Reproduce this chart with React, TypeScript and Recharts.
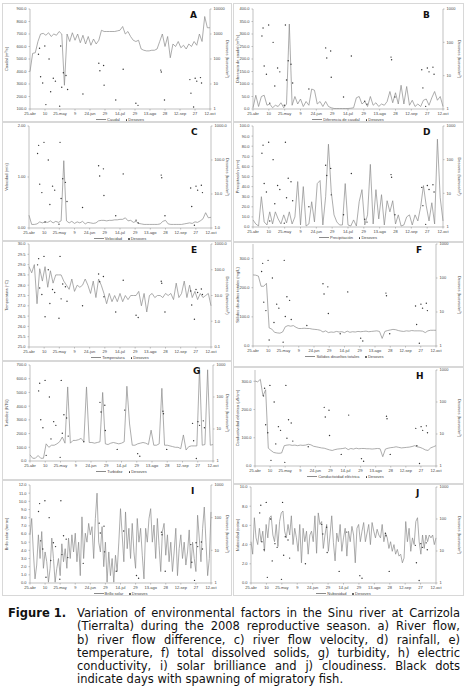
import React from 'react';
import { ComposedChart, Line, Scatter, XAxis, YAxis } from 'recharts';

// x axis labels, equally spaced (index 0..12)
const dateTicks = ['25-abr', '10', '25-may', '9', '24-jun', '29', '14-jul', '29', '13-ago', '28', '12-sep', '27', '12-oct'];

// spawning days (days since 25-abr) and eggs per m3
const spawnDays = [8, 9, 14, 18, 10, 12, 15, 19.5, 22, 24, 29, 30, 31.5, 34, 35.5, 28, 50, 65, 66, 69.5, 70, 81, 88, 100, 102, 123.5, 124, 127, 151, 152, 154.5, 156, 157.5, 161, 162];
const spawnEggs = [155, 270, 330, 100, 19.5, 11, 1.5, 4.9, 17, 13, 330, 7.4, 28, 22, 6, 1.3, 4, 68, 34, 55, 9, 2.3, 39, 1.7, 1.4, 36, 30, 2.3, 15, 4.3, 1.2, 17, 13, 18, 11];

const caudal = [400, 545, 550, 640, 700, 705, 690, 710, 680, 700, 690, 720, 700, 290, 700, 640, 710, 650, 700, 630, 690, 620, 680, 610, 660, 620, 650, 730, 720, 720, 720, 720, 720, 725, 730, 760, 700, 720, 680, 650, 640, 650, 580, 570, 565, 565, 570, 570, 580, 640, 700, 600, 680, 510, 620, 600, 640, 590, 610, 580, 620, 600, 640, 610, 700, 640, 840, 750, 750];
const difCaudal = [5, 55, 10, 50, 55, 15, 20, 5, 15, 10, 25, 5, 20, 340, 15, 50, 20, 40, 10, 30, 15, 80, 75, 20, 30, 10, 30, 10, 5, 2, 2, 2, 2, 2, 2, 3, 5, 45, 50, 20, 30, 10, 50, 15, 25, 10, 20, 15, 30, 70, 25, 65, 20, 95, 20, 90, 15, 35, 10, 20, 10, 35, 40, 15, 45, 70, 35, 50, 10];
const velocidad = [0.25, 0.07, 0.07, 0.08, 0.12, 0.1, 0.12, 0.11, 0.14, 0.1, 0.13, 0.11, 0.14, 1.32, 0.14, 0.1, 0.13, 0.09, 0.12, 0.1, 0.13, 0.08, 0.11, 0.1, 0.09, 0.1, 0.14, 0.15, 0.15, 0.14, 0.15, 0.15, 0.16, 0.16, 0.17, 0.17, 0.2, 0.14, 0.15, 0.11, 0.13, 0.09, 0.08, 0.07, 0.07, 0.07, 0.07, 0.07, 0.07, 0.08, 0.13, 0.15, 0.08, 0.07, 0.07, 0.07, 0.07, 0.07, 0.08, 0.09, 0.1, 0.09, 0.12, 0.11, 0.14, 0.18, 0.3, 0.2, 0.21];
const precipitacion = [7, 3, 1, 30, 5, 2, 15, 3, 15, 8, 3, 12, 4, 15, 3, 10, 45, 2, 40, 1, 3, 25, 5, 43, 46, 2, 30, 82, 35, 12, 5, 2, 2, 43, 2, 1, 7, 1, 25, 37, 2, 12, 62, 3, 37, 8, 32, 2, 26, 15, 26, 3, 12, 1, 2, 10, 12, 2, 12, 6, 20, 41, 21, 6, 24, 3, 87, 29, 6];
const temperatura = [28.9, 28.6, 29.0, 27.1, 28.8, 28.2, 28.9, 27.9, 28.7, 28.1, 28.5, 28.5, 28.5, 28.2, 28.0, 27.8, 28.3, 27.7, 28.0, 27.9, 28.0, 28.3, 28.0, 27.6, 28.2, 27.4, 28.3, 28.0, 27.6, 27.1, 27.6, 27.2, 27.5, 27.2, 27.6, 27.2, 27.5, 27.3, 27.5, 27.5, 27.5, 27.7, 27.0, 27.6, 26.7, 27.5, 27.6, 27.4, 27.5, 27.5, 27.4, 27.6, 27.5, 27.6, 27.3, 28.1, 27.4, 27.6, 28.2, 27.4, 28.0, 27.4, 27.7, 27.3, 27.6, 27.4, 27.5, 27.6, 27.0];
const solidos = [244, 243, 240, 205, 205, 215, 62, 58, 47, 45, 44, 48, 66, 70, 68, 70, 64, 60, 60, 61, 60, 60, 58, 57, 56, 54, 48, 52, 46, 48, 47, 50, 48, 49, 46, 51, 47, 49, 48, 50, 49, 50, 51, 49, 50, 51, 52, 50, 26, 50, 53, 55, 57, 56, 53, 51, 50, 52, 51, 53, 52, 52, 52, 51, 46, 52, 54, 54, 54];
const turbidez = [45, 20, 20, 40, 20, 20, 125, 100, 115, 115, 125, 140, 175, 130, 540, 130, 150, 150, 155, 165, 140, 540, 135, 135, 130, 135, 140, 500, 125, 120, 130, 135, 130, 125, 130, 140, 545, 270, 115, 115, 125, 130, 135, 130, 120, 225, 115, 115, 125, 530, 115, 115, 110, 105, 100, 100, 90, 190, 80, 105, 110, 110, 110, 680, 115, 120, 665, 115, 120];
const conductividad = [301, 298, 307, 248, 270, 63, 55, 48, 46, 45, 46, 72, 74, 75, 73, 74, 72, 74, 73, 74, 77, 75, 70, 68, 66, 64, 63, 60, 57, 55, 58, 60, 61, 62, 64, 58, 62, 60, 63, 61, 62, 62, 61, 61, 60, 61, 62, 61, 33, 60, 63, 65, 66, 68, 66, 64, 65, 66, 67, 69, 72, 68, 66, 62, 57, 55, 64, 68, 72];
const brillo = [5.9, 7.9, 3.8, 0.5, 2.2, 5.9, 3.0, 6.3, 1.8, 3.8, 2.6, 0.1, 1.8, 5.5, 3.0, 0.1, 1.8, 3.0, 0.9, 4.8, 2.6, 4.2, 1.8, 5.5, 3.0, 5.9, 3.8, 6.1, 2.6, 5.0, 0.9, 8.1, 3.0, 6.1, 5.0, 7.3, 5.9, 6.9, 3.0, 7.9, 11.0, 5.0, 3.8, 6.9, 2.0, 5.0, 0.1, 3.8, 0.9, 3.0, 0.1, 3.4, 1.4, 5.0, 9.1, 5.9, 2.6, 8.7, 4.2, 6.7, 3.0, 7.3, 3.8, 1.8, 7.9, 5.0, 6.7, 3.4, 0.5, 6.7, 5.0, 7.9, 9.1, 5.0, 7.1, 3.0, 7.9, 4.6, 1.4, 6.3, 7.3, 3.4, 5.9, 2.6, 5.0, 1.4, 3.8, 6.7, 0.9, 4.2, 5.9, 3.0, 5.0, 2.2, 3.8, 6.5, 1.8, 5.0, 3.0, 1.4, 8.3, 5.5, 2.6, 6.7, 9.3, 5.0, 0.9, 3.0, 8.7];
const nubosidad = [4.3, 3.0, 6.8, 4.7, 4.0, 5.7, 4.3, 5.4, 3.3, 6.1, 4.7, 6.8, 7.0, 5.0, 4.3, 6.1, 3.8, 6.4, 7.3, 7.5, 5.4, 4.7, 6.1, 5.0, 7.0, 4.0, 5.7, 4.7, 3.3, 6.1, 2.1, 5.7, 4.3, 5.4, 3.0, 5.0, 5.4, 4.3, 7.0, 3.1, 7.3, 6.1, 6.4, 3.6, 5.0, 6.1, 3.3, 5.0, 7.0, 4.2, 2.3, 5.2, 4.3, 6.1, 3.3, 4.7, 5.7, 2.8, 5.4, 4.3, 5.9, 5.0, 2.1, 5.7, 6.1, 4.3, 5.4, 6.3, 4.3, 5.2, 6.1, 4.0, 6.3, 5.4, 4.7, 5.6, 5.0, 4.7, 6.1, 4.3, 5.2, 4.7, 3.6, 4.3, 3.3, 4.0, 3.0, 3.5, 2.8, 3.0, 2.1, 2.6, 6.4, 4.3, 5.7, 3.3, 4.7, 4.0, 6.4, 6.8, 4.3, 3.0, 5.0, 3.6, 5.0, 4.3, 5.0, 4.7, 5.0, 4.0, 4.7];

const SEASON_DAYS = 170;
const FONT = '"Liberation Sans", Arial, sans-serif';

type Box = { x: number; y: number; w: number; h: number };
type Plot = { l: number; t: number; r: number; b: number };

interface PanelProps {
  letter: string;
  box: Box;
  plot: Plot;
  values: number[];
  yDomain: [number, number];
  yTicks: number[];
  yDec: number;
  rDomain: [number, number];
  rTicks: number[];
  rDec: number;
  yLabel: string;
  lineName: string;
}

const spawnPoints = spawnDays.map((d, i) => ({ x: (d / SEASON_DAYS) * 12, y: spawnEggs[i] }));

const Dot = (p: any) => <circle cx={p.cx} cy={p.cy} r={0.7} fill="#333" />;

const Panel: React.FC<PanelProps> = ({ letter, box, plot, values, yDomain, yTicks, yDec, rDomain, rTicks, rDec, yLabel, lineName }) => {
  const series = values.map((v, i) => ({ x: (i / (values.length - 1)) * 12, y: v }));
  const leftW = plot.l - box.x;
  const rightW = box.x + box.w - plot.r;
  const xH = box.y + box.h - plot.b;
  const tick = { fontSize: 4, fill: '#444', fontFamily: FONT };
  const cx = (plot.l + plot.r) / 2 - box.x;
  return (
    <div style={{ position: 'absolute', left: box.x, top: box.y, width: box.w, height: box.h, outline: '1px solid #d8d8d8' }}>
      <ComposedChart width={box.w} height={box.h} margin={{ top: plot.t - box.y, left: 0, right: 0, bottom: 0 }} style={{ overflow: 'visible' }}>
        <XAxis
          dataKey="x"
          type="number"
          domain={[0, 12]}
          ticks={dateTicks.map((_, i) => i)}
          interval={0}
          tickFormatter={(i: number) => dateTicks[i]}
          height={xH}
          tick={tick}
          tickSize={1.5}
          stroke="#999"
          strokeWidth={0.6}
        />
        <YAxis
          yAxisId="l"
          dataKey="y"
          width={leftW}
          domain={yDomain}
          ticks={yTicks}
          interval={0}
          allowDataOverflow
          tickFormatter={(v: number) => v.toFixed(yDec)}
          tick={tick}
          tickSize={1.5}
          stroke="#999"
          strokeWidth={0.6}
          label={{ value: yLabel, angle: -90, position: 'insideLeft', offset: 4, style: { fontSize: 4, fill: '#444', fontFamily: FONT, textAnchor: 'middle' } }}
        />
        <YAxis
          yAxisId="r"
          dataKey="y"
          orientation="right"
          scale="log"
          width={rightW}
          domain={rDomain}
          ticks={rTicks}
          interval={0}
          allowDataOverflow
          tickFormatter={(v: number) => (v < 1 ? v.toFixed(1) : v.toFixed(rDec))}
          tick={tick}
          tickSize={1.5}
          stroke="#999"
          strokeWidth={0.6}
          label={{ value: 'Desoves (huevos/m³)', angle: 90, position: 'insideRight', offset: 4, style: { fontSize: 4, fill: '#444', fontFamily: FONT, textAnchor: 'middle' } }}
        />
        <Line yAxisId="l" data={series} dataKey="y" stroke="#8a8a8a" strokeWidth={0.7} dot={false} isAnimationActive={false} />
        <Scatter yAxisId="r" data={spawnPoints} dataKey="y" shape={Dot} isAnimationActive={false} />
      </ComposedChart>
      <div style={{ position: 'absolute', top: plot.b - box.y + 8, left: cx - 40, width: 80, textAlign: 'center', fontSize: 4, fontFamily: FONT, color: '#444', lineHeight: '5px', whiteSpace: 'nowrap' }}>
        <span style={{ display: 'inline-block', width: 10, borderTop: '0.6px solid #8a8a8a', verticalAlign: 'middle', marginRight: 1 }} />
        {lineName}
        <span style={{ display: 'inline-block', width: 1.6, height: 1.6, borderRadius: 1, background: '#333', verticalAlign: 'middle', margin: '0 1px 0 6px' }} />
        Desoves
      </div>
      <div style={{ position: 'absolute', left: plot.r - box.x - 20, top: plot.t - box.y + 1, fontFamily: '"DejaVu Sans", sans-serif', fontWeight: 'bold', fontSize: 9, color: '#111' }}>{letter}</div>
    </div>
  );
};

const decades3 = [1, 10, 100, 1000];

const App: React.FC = () => {
  const captionLines = [
    'Variation of environmental factors in the Sinu river at Carrizola',
    '(Tierralta) during the 2008 reproductive season. a) River flow,',
    'b) river flow difference, c) river flow velocity, d) rainfall, e)',
    'temperature, f) total dissolved solids, g) turbidity, h) electric',
    'conductivity, i) solar brilliance and j) cloudiness. Black dots',
    'indicate days with spawning of migratory fish.',
  ];
  return (
    <div style={{ position: 'absolute', left: 0, top: 0, width: 466, height: 697, background: '#fff', overflow: 'hidden' }}>
      <Panel letter="A" box={{ x: 3, y: 4, w: 228, h: 118 }} plot={{ l: 30, t: 9, r: 210, b: 109 }} values={caudal}
        yDomain={[100, 900]} yTicks={[100, 200, 300, 400, 500, 600, 700, 800, 900]} yDec={1}
        rDomain={[1, 10000]} rTicks={[1, 10, 100, 1000, 10000]} rDec={0} yLabel="Caudal (m³/s)" lineName="Caudal" />
      <Panel letter="B" box={{ x: 234, y: 4, w: 229, h: 118 }} plot={{ l: 253, t: 9, r: 443, b: 109 }} values={difCaudal}
        yDomain={[0, 400]} yTicks={[0, 50, 100, 150, 200, 250, 300, 350, 400]} yDec={1}
        rDomain={[1, 1000]} rTicks={decades3} rDec={0} yLabel="Diferencia de caudal (m³/s)" lineName="Diferencia de caudal" />
      <Panel letter="C" box={{ x: 3, y: 122, w: 228, h: 119 }} plot={{ l: 29, t: 126, r: 211, b: 228 }} values={velocidad}
        yDomain={[0, 2]} yTicks={[0, 1, 2]} yDec={2}
        rDomain={[1, 1000]} rTicks={decades3} rDec={1} yLabel="Velocidad (m/s)" lineName="Velocidad" />
      <Panel letter="D" box={{ x: 234, y: 122, w: 229, h: 120 }} plot={{ l: 253, t: 126, r: 443, b: 227 }} values={precipitacion}
        yDomain={[0, 100]} yTicks={[0, 10, 20, 30, 40, 50, 60, 70, 80, 90, 100]} yDec={1}
        rDomain={[1, 1000]} rTicks={decades3} rDec={0} yLabel="Precipitación (mm)" lineName="Precipitación" />
      <Panel letter="E" box={{ x: 3, y: 241, w: 228, h: 120 }} plot={{ l: 29, t: 244, r: 211, b: 347 }} values={temperatura}
        yDomain={[25, 30]} yTicks={[25, 25.5, 26, 26.5, 27, 27.5, 28, 28.5, 29, 29.5, 30]} yDec={1}
        rDomain={[0.1, 1000]} rTicks={[0.1, 1, 10, 100, 1000]} rDec={1} yLabel="Temperatura (°C)" lineName="Temperatura" />
      <Panel letter="F" box={{ x: 234, y: 242, w: 229, h: 125 }} plot={{ l: 253, t: 244, r: 436, b: 346 }} values={solidos}
        yDomain={[0, 350]} yTicks={[0, 100, 200, 300]} yDec={1}
        rDomain={[1, 1000]} rTicks={decades3} rDec={0} yLabel="Sólidos disueltos totales (mg/L)" lineName="Sólidos disueltos totales" />
      <Panel letter="G" box={{ x: 3, y: 361, w: 228, h: 119 }} plot={{ l: 30, t: 365, r: 213, b: 461 }} values={turbidez}
        yDomain={[0, 700]} yTicks={[0, 100, 200, 300, 400, 500, 600, 700]} yDec={1}
        rDomain={[1, 1000]} rTicks={decades3} rDec={0} yLabel="Turbidez (NTU)" lineName="Turbidez" />
      <Panel letter="H" box={{ x: 234, y: 367, w: 229, h: 117 }} plot={{ l: 255, t: 370, r: 436, b: 466 }} values={conductividad}
        yDomain={[0, 340]} yTicks={[0, 100, 200, 300]} yDec={1}
        rDomain={[1, 1000]} rTicks={decades3} rDec={0} yLabel="Conductividad eléctrica (µS/cm)" lineName="Conductividad eléctrica" />
      <Panel letter="I" box={{ x: 3, y: 480, w: 228, h: 115 }} plot={{ l: 30, t: 485, r: 211, b: 583 }} values={brillo}
        yDomain={[0, 12]} yTicks={[0, 1, 2, 3, 4, 5, 6, 7, 8, 9, 10, 11, 12]} yDec={1}
        rDomain={[1, 1000]} rTicks={decades3} rDec={0} yLabel="Brillo solar (horas)" lineName="Brillo solar" />
      <Panel letter="J" box={{ x: 234, y: 484, w: 229, h: 111 }} plot={{ l: 251, t: 487, r: 436, b: 583 }} values={nubosidad}
        yDomain={[0, 10]} yTicks={[0, 2, 4, 6, 8, 10]} yDec={1}
        rDomain={[1, 1000]} rTicks={decades3} rDec={0} yLabel="Nubosidad (octas)" lineName="Nubosidad" />

      <div style={{ position: 'absolute', left: 8, top: 607, fontFamily: '"DejaVu Sans", Verdana, sans-serif', fontWeight: 'bold', fontSize: 11.5, lineHeight: '13.3px', color: '#111' }}>
        Figure 1.
      </div>
      <div style={{ position: 'absolute', left: 77, top: 607, width: 383, fontFamily: '"DejaVu Sans", Verdana, sans-serif', fontSize: 11.5, lineHeight: '13.3px', color: '#111' }}>
        {captionLines.map((t, i) => (
          <div key={i} style={{ textAlign: 'justify', textAlignLast: i < captionLines.length - 1 ? 'justify' : 'left', whiteSpace: 'nowrap' }}>{t}</div>
        ))}
      </div>
    </div>
  );
};

export default App;
